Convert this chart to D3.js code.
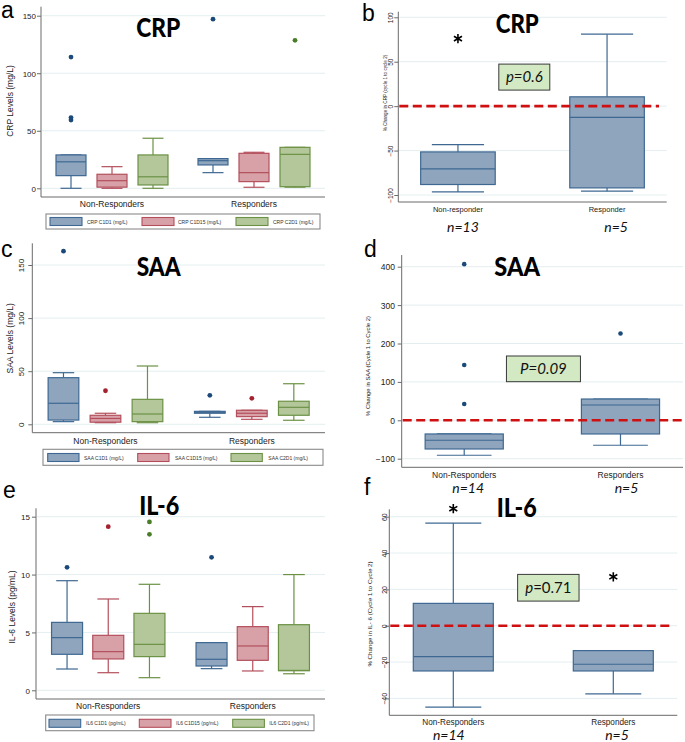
<!DOCTYPE html>
<html><head><meta charset="utf-8">
<script src="https://cdn.jsdelivr.net/npm/d3@7"></script>
<style>body{margin:0;background:#fff}svg{display:block}</style>
</head><body>
<script>
// ---------------- DATA ----------------
const groups = ["Non-Responders", "Responders"];
// box stats: [lowerWhisker, Q1, median, Q3, upperWhisker]
const crpSeries = ["CRP C1D1 (mg/L)", "CRP C1D15 (mg/L)", "CRP C2D1 (mg/L)"];
const crpNR = [[0, 11, 23, 29, 29], [0, 1, 6.6, 12.2, 18.8], [0, 2.9, 10, 29, 43.5]];
const crpR = [[13.6, 20.3, 24, 25.8, 25.8], [0.9, 5.8, 13.6, 30.4, 31.3], [1, 1.4, 29.5, 35.6, 35.6]];
const crpOutNR = [[114, 61.5, 59.3], [], []];
const crpOutR = [[147], [], [128.6]];
const crpTicks = [0, 50, 100, 150];

const saaSeries = ["SAA C1D1 (mg/L)", "SAA C1D15 (mg/L)", "SAA C2D1 (mg/L)"];
const saaNR = [[2.5, 4, 19.8, 43.9, 48.6], [1.5, 2, 5.5, 8.5, 10.4], [1.5, 2.5, 9.7, 23.5, 54.9]];
const saaR = [[6.6, 10.4, 11.3, 12.2, 12.2], [4.7, 7.2, 10.4, 13.2, 13.2], [3.8, 8.5, 16, 21.7, 38.2]];
const saaOutNR = [[163], [31.6], []];
const saaOutR = [[27.3], [24.5], []];
const saaTicks = [0, 50, 100, 150];

const il6Series = ["IL6 C1D1 (pg/mL)", "IL6 C1D15 (pg/mL)", "IL6 C2D1 (pg/mL)"];
const il6NR = [[1.84, 3.11, 4.55, 5.87, 9.47], [1.52, 2.71, 3.34, 4.75, 7.89], [1.09, 2.91, 3.97, 6.65, 9.16]];
const il6R = [[1.87, 2.1, 2.68, 4.12, 4.12], [1.67, 2.59, 3.83, 5.5, 7.23], [1.43, 1.69, 1.72, 5.67, 10]];
const il6OutNR = [[10.63], [14.14], [14.55, 13.48]];
const il6OutR = [[11.49], [], []];
const il6Ticks = [0, 5, 10, 15];

const crpChangeGroups = ["Non-responder", "Responder"];
const crpChange = [[-96.5, -88.2, -70.6, -51.5, -43.2], [-95.7, -92, -12.7, 10.5, 81]];
const crpChangeOut = [[76], []];
const crpChangeTicks = [-100, -50, 0, 50, 100];
const crpN = ["n=13", "n=5"];

const saaChange = [[-91, -74.7, -52, -35.6, -35.6], [-65, -35.6, 39.8, 55.4, 55.4]];
const saaChangeOut = [[406.7, 143.9, 42.4], [226]];
const saaChangeTicks = [-100, 0, 100, 200, 300, 400];
const saaN = ["n=14", "n=5"];

const il6Change = [[-44.8, -24.9, -17, 12.3, 56.5], [-37.5, -24.9, -21.2, -13.7, -13.7]];
const il6ChangeOut = [[64.4], [26.9]];
const il6ChangeTicks = [-40, -20, 0, 20, 40, 60];
const il6N = ["n=14", "n=5"];

// ---------------- STYLE ----------------
const colors = [
  {fill: "#8ea5bd", stroke: "#3e6892", dot: "#1b4a7a"},
  {fill: "#d8a1a8", stroke: "#b34f5c", dot: "#a3222f"},
  {fill: "#b3c79b", stroke: "#6c9145", dot: "#4a7d27"}
];
const AX = "#6a6a6a", GRID = "#e4eef0", TXT = "#222";
const SANS = "'Liberation Sans', Arial, sans-serif";
const HUM = "Lato, 'Open Sans', sans-serif";

const svg = d3.select("body").append("svg").attr("width", 685).attr("height", 742);

function drawBox(g, cx, w, s, y, col) {
  const cap = w * 0.7;
  const gg = g.append("g").attr("stroke", col.stroke).attr("stroke-width", 1.2);
  gg.append("line").attr("x1", cx).attr("x2", cx).attr("y1", y(s[0])).attr("y2", y(s[1]));
  gg.append("line").attr("x1", cx).attr("x2", cx).attr("y1", y(s[3])).attr("y2", y(s[4]));
  gg.append("line").attr("x1", cx - cap / 2).attr("x2", cx + cap / 2).attr("y1", y(s[0])).attr("y2", y(s[0]));
  gg.append("line").attr("x1", cx - cap / 2).attr("x2", cx + cap / 2).attr("y1", y(s[4])).attr("y2", y(s[4]));
  gg.append("rect").attr("x", cx - w / 2).attr("width", w).attr("y", y(s[3]))
    .attr("height", Math.max(0.5, y(s[1]) - y(s[3]))).attr("fill", col.fill);
  gg.append("line").attr("x1", cx - w / 2).attr("x2", cx + w / 2).attr("y1", y(s[2])).attr("y2", y(s[2]));
}

function yAxis(g, c, y, ticks) {
  g.append("g").selectAll("line").data(ticks).join("line")
    .attr("x1", c.left + 1).attr("x2", c.right).attr("y1", d => y(d)).attr("y2", d => y(d))
    .attr("stroke", GRID).attr("stroke-width", 1);
  const ax = g.append("g").attr("transform", `translate(${c.left},0)`)
    .call(d3.axisLeft(y).tickValues(ticks).tickSize(4).tickSizeOuter(0).tickFormat(d3.format("d")));
  ax.select(".domain").remove();
  ax.selectAll(".tick line").attr("stroke", AX);
  ax.selectAll(".tick text").attr("fill", TXT).style("font-family", SANS).style("font-size", c.tickFont + "px");
  if (c.rotTicks) {
    ax.selectAll(".tick text").attr("transform", "rotate(-90)").attr("x", 0).attr("dy", 0)
      .attr("y", -(c.left - c.tickX)).attr("text-anchor", "middle");
  } else {
    ax.selectAll(".tick text").attr("x", -(c.left - c.tickX)).attr("dy", "0.35em");
  }
  g.append("line").attr("x1", c.left).attr("x2", c.left).attr("y1", c.top).attr("y2", c.bottom).attr("stroke", AX);
  g.append("line").attr("x1", c.left).attr("x2", c.right).attr("y1", c.bottom).attr("y2", c.bottom).attr("stroke", AX);
  g.append("text").attr("transform", `translate(${c.ytX},${c.ytY}) rotate(-90)`)
    .attr("text-anchor", "middle").style("font-family", SANS).style("font-size", c.ytFont + "px")
    .attr("fill", TXT).text(c.ytitle);
}

function panelTitle(g, c) {
  g.append("text").attr("x", c.titleX).attr("y", c.titleY).attr("text-anchor", "middle")
    .style("font-family", HUM).style("font-weight", 900).style("font-size", "26px")
    .attr("textLength", c.titleW).attr("lengthAdjust", "spacingAndGlyphs").attr("fill", "#000").text(c.title);
  g.append("text").attr("x", c.letterX).attr("y", c.letterY)
    .style("font-family", SANS).style("font-size", "23px").attr("fill", "#000").text(c.letter);
}

function levelPanel(c, series, nr, r, outNR, outR, ticks) {
  const g = svg.append("g");
  const y = d3.scaleLinear().domain([ticks[0], ticks[ticks.length - 1]]).range([c.y0, c.yTop]);
  const x = d3.scaleBand().domain(groups).range([c.left, c.right]);
  const off = d3.scalePoint().domain(series).range([-c.off, c.off]);
  yAxis(g, c, y, ticks);
  const stats = [nr, r], outs = [outNR, outR];
  groups.forEach((grp, gi) => {
    const gc = x(grp) + x.bandwidth() / 2;
    series.forEach((s, si) => {
      const cx = gc + off(s);
      drawBox(g, cx, c.boxW, stats[gi][si], y, colors[si]);
      g.append("g").selectAll("circle").data(outs[gi][si]).join("circle")
        .attr("cx", cx).attr("cy", d => y(d)).attr("r", 2.4).attr("fill", colors[si].dot);
    });
    g.append("text").attr("x", gc).attr("y", c.xlY).attr("text-anchor", "middle")
      .style("font-family", SANS).style("font-size", c.xlFont + "px").attr("fill", TXT).text(grp);
  });
  const L = c.legend;
  g.append("rect").attr("x", L.x0).attr("y", L.y0).attr("width", L.x1 - L.x0).attr("height", L.y1 - L.y0)
    .attr("fill", "#fff").attr("stroke", "#8a8a8a").attr("stroke-width", 1.1);
  series.forEach((s, si) => {
    g.append("rect").attr("x", L.keys[si]).attr("y", L.ky).attr("width", L.kw).attr("height", 8)
      .attr("fill", colors[si].fill).attr("stroke", colors[si].stroke).attr("stroke-width", 1.1);
    g.append("text").attr("x", L.labels[si]).attr("y", L.ky + 6)
      .style("font-family", SANS).style("font-size", "5px").attr("fill", "#333").text(s);
  });
  panelTitle(g, c);
}

function changePanel(c, cats, stats, outs, ticks, ns, pParts, star) {
  const g = svg.append("g");
  const y = d3.scaleLinear().domain([ticks[0], ticks[ticks.length - 1]]).range([c.yBot, c.yTop]);
  const x = d3.scalePoint().domain(cats).range([c.left, c.right]).padding(0.4);
  yAxis(g, c, y, ticks);
  const bw = x.step() * 0.5;
  cats.forEach((cat, i) => {
    const cx = x(cat);
    drawBox(g, cx, bw, stats[i], y, colors[0]);
    if (star) {
      g.append("g").selectAll("path").data(outs[i]).join("path")
        .attr("transform", d => `translate(${cx},${y(d)})`)
        .attr("d", d3.symbol(d3.symbolAsterisk, 60)).attr("stroke", "#000").attr("stroke-width", 1.6);
    } else {
      g.append("g").selectAll("circle").data(outs[i]).join("circle")
        .attr("cx", cx).attr("cy", d => y(d)).attr("r", 2.3).attr("fill", colors[0].dot);
    }
    g.append("text").attr("x", cx).attr("y", c.xlY).attr("text-anchor", "middle")
      .style("font-family", SANS).style("font-size", c.xlFont + "px").attr("fill", TXT).text(cat);
    g.append("text").attr("x", cx + c.nOff[i]).attr("y", c.nY).attr("text-anchor", "middle")
      .style("font-family", HUM).style("font-style", "italic").style("font-size", "14px").attr("fill", "#111").text(ns[i]);
  });
  g.append("line").attr("x1", c.left + 1).attr("x2", c.dashEnd).attr("y1", y(0)).attr("y2", y(0))
    .attr("stroke", "#d01010").attr("stroke-width", 2.6).attr("stroke-dasharray", "9,4.5");
  const px = x(cats[0]) + (x(cats[1]) - x(cats[0])) * c.pFrac, py = y(c.pVal);
  g.append("rect").attr("x", px - c.pW / 2).attr("y", py - c.pH / 2).attr("width", c.pW).attr("height", c.pH)
    .attr("fill", "#d3e9c3").attr("stroke", "#3a3a3a").attr("stroke-width", 1);
  const t = g.append("text").attr("x", px).attr("y", py + 5).attr("text-anchor", "middle")
    .style("font-family", HUM).style("font-size", "15px").attr("fill", "#111");
  pParts.forEach(p => t.append("tspan").style("font-style", p[1] ? "italic" : "normal").text(p[0]));
  panelTitle(g, c);
}

// ---------------- PANELS ----------------
levelPanel({left: 41, right: 325, top: 6.7, bottom: 197, y0: 188.3, yTop: 15.7, off: 41, boxW: 30,
  rotTicks: false, tickX: 36, tickFont: 8, ytitle: "CRP Levels (mg/L)", ytX: 13, ytY: 101, ytFont: 8.5,
  xlY: 207, xlFont: 8.5, title: "CRP", titleX: 158.3, titleY: 36.7, titleW: 44, letter: "a", letterX: 1, letterY: 18,
  legend: {x0: 46, y0: 214, x1: 320, y1: 229, ky: 217.5, kw: 32, keys: [50, 142, 236], labels: [87, 178, 273]}},
  crpSeries, crpNR, crpR, crpOutNR, crpOutR, crpTicks);

levelPanel({left: 32.3, right: 325, top: 243.3, bottom: 432.7, y0: 424.3, yTop: 265, off: 42, boxW: 30.7,
  rotTicks: true, tickX: 24, tickFont: 8, ytitle: "SAA Levels (mg/L)", ytX: 12.5, ytY: 338.3, ytFont: 8.5,
  xlY: 444, xlFont: 8.5, title: "SAA", titleX: 158.7, titleY: 276, titleW: 44, letter: "c", letterX: 1, letterY: 257,
  legend: {x0: 43, y0: 449.3, x1: 323, y1: 465.3, ky: 453.5, kw: 31.3, keys: [47.7, 137.7, 231], labels: [84, 175, 268.3]}},
  saaSeries, saaNR, saaR, saaOutNR, saaOutR, saaTicks);

levelPanel({left: 36, right: 325, top: 508.3, bottom: 699, y0: 690.3, yTop: 516.7, off: 41.2, boxW: 31,
  rotTicks: false, tickX: 30, tickFont: 8, ytitle: "IL-6 Levels (pg/mL)", ytX: 15, ytY: 607, ytFont: 8.5,
  xlY: 709, xlFont: 8.5, title: "IL-6", titleX: 159.2, titleY: 515, titleW: 40, letter: "e", letterX: 3, letterY: 498,
  legend: {x0: 45.7, y0: 715, x1: 314, y1: 730.7, ky: 719.3, kw: 31.7, keys: [49, 139.3, 232.7], labels: [86, 176, 269.3]}},
  il6Series, il6NR, il6R, il6OutNR, il6OutR, il6Ticks);

changePanel({left: 398.3, right: 666.7, top: 11.7, bottom: 202, yBot: 195, yTop: 17.3,
  rotTicks: true, tickX: 393, tickFont: 6.5, ytitle: "% Change in CRP (cycle 1 to cycle 2)", ytX: 387, ytY: 93, ytFont: 4.6,
  xlY: 212, xlFont: 7.5, nY: 232, nOff: [5, 9], dashEnd: 659, pFrac: 0.445, pVal: 32.7, pW: 51, pH: 26,
  title: "CRP", titleX: 517.3, titleY: 33.3, titleW: 43, letter: "b", letterX: 362, letterY: 21},
  crpChangeGroups, crpChange, crpChangeOut, crpChangeTicks, crpN, [["p=0.6", true]], true);

changePanel({left: 401.7, right: 683, top: 255, bottom: 467.3, yBot: 458.7, yTop: 266.7,
  rotTicks: false, tickX: 395, tickFont: 8.5, ytitle: "% Change in SAA (Cycle 1 to Cycle 2)", ytX: 369.5, ytY: 366, ytFont: 5.9,
  xlY: 478, xlFont: 8.5, nY: 493.3, nOff: [4, 6], dashEnd: 683, pFrac: 0.507, pVal: 134, pW: 74, pH: 25.7,
  title: "SAA", titleX: 517.2, titleY: 275.7, titleW: 45.7, letter: "d", letterX: 364, letterY: 257},
  groups, saaChange, saaChangeOut, saaChangeTicks, saaN, [["P=0.09", true]], false);

changePanel({left: 389.3, right: 677.3, top: 509.3, bottom: 715.3, yBot: 698.4, yTop: 516.7,
  rotTicks: true, tickX: 387, tickFont: 7, ytitle: "% Change in IL- 6 (Cycle 1 to Cycle 2)", ytX: 372, ytY: 614, ytFont: 6.2,
  xlY: 725, xlFont: 8.2, nY: 740, nOff: [-4.5, 3.7], dashEnd: 672, pFrac: 0.594, pVal: 20.9, pW: 61.4, pH: 26.7,
  title: "IL-6", titleX: 516.7, titleY: 517.3, titleW: 40, letter: "f", letterX: 364, letterY: 495},
  groups, il6Change, il6ChangeOut, il6ChangeTicks, il6N, [["p", true], ["=0.71", false]], true);
</script>
</body></html>
